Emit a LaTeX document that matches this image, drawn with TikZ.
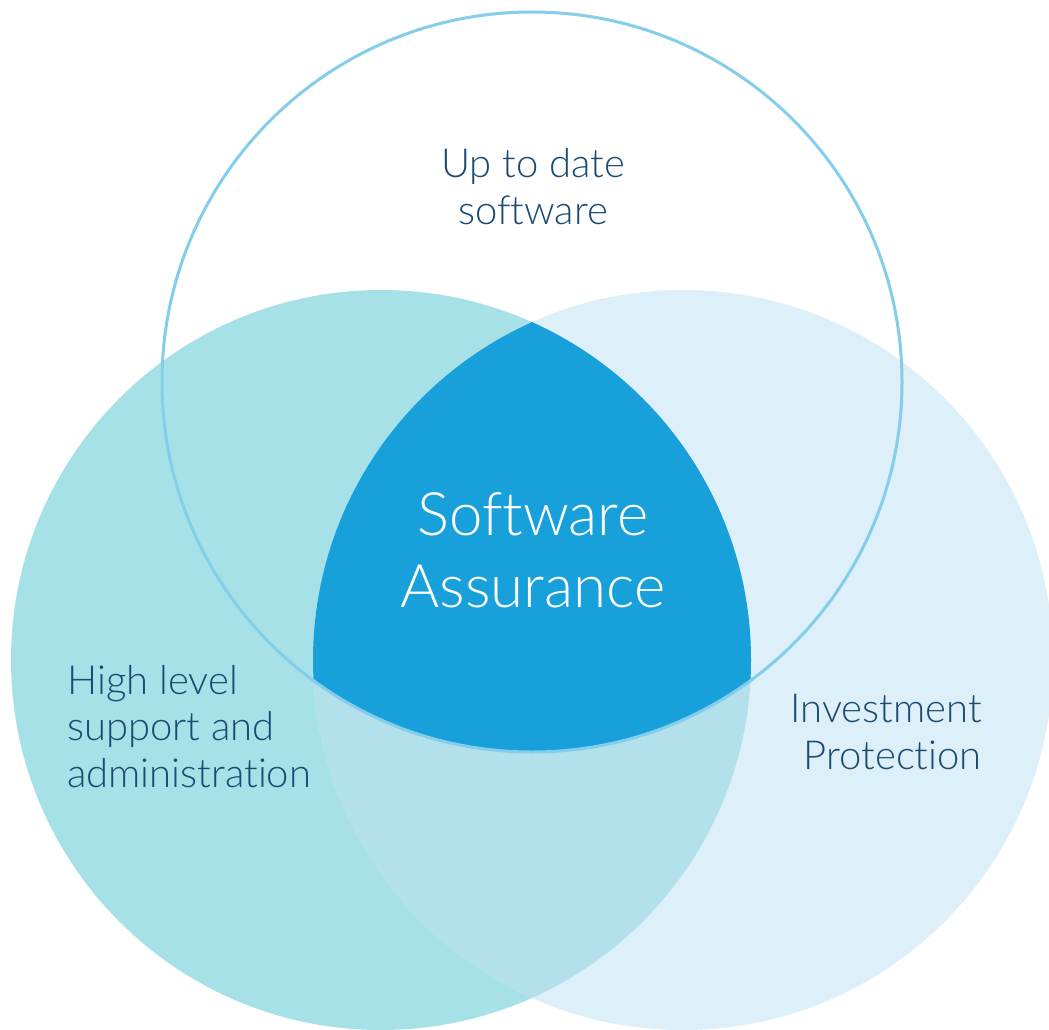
\documentclass[tikz,border=0pt]{standalone}
\usepackage{fontspec}
\setmainfont{Lato Light}[Ligatures=NoCommon]
\definecolor{leftfill}{HTML}{A6E1E8}
\definecolor{rightfill}{HTML}{DDEFF9}
\definecolor{overlapfill}{HTML}{B2E0EB}
\definecolor{darkfill}{HTML}{18A0DA}
\definecolor{ringcol}{HTML}{85CEEB}
\definecolor{txtcol}{HTML}{1B4A72}
\tikzset{
  lbl/.style={text=txtcol, inner sep=0pt, font=\fontsize{40}{46.5}\selectfont},
  biglbl/.style={text=white, inner sep=0pt, font=\fontsize{60}{72}\selectfont}
}
\begin{document}
\begin{tikzpicture}[x=1pt,y=-1pt]
\useasboundingbox (0,0) rectangle (1049,1030);
\fill[white] (0,0) rectangle (1049,1030);
\coordinate (cl) at (381,660);
\coordinate (cr) at (683,660);
\coordinate (ct) at (532,382);
\fill[leftfill] (cl) circle (370pt);
\fill[rightfill] (cr) circle (370pt);
\begin{scope}
  \clip (cl) circle (370pt);
  \fill[overlapfill] (cr) circle (370pt);
\end{scope}
\begin{scope}
  \clip (cl) circle (370pt);
  \clip (cr) circle (370pt);
  \fill[darkfill] (ct) circle (370pt);
\end{scope}
\draw[ringcol, line width=3pt] (ct) circle (370pt);
\node[lbl, align=center, anchor=base] (top) at (533,224) {Up to date\\software};
\node[biglbl, align=center, anchor=base] (center) at (533,607) {Software\\Assurance};
\node[lbl, align=left, anchor=base west] (left) at (67,787) {High level\\support and\\administration};
\node[lbl, align=right, anchor=base east] (right) at (982,769) {Investment\\Protection};
\end{tikzpicture}
\end{document}
